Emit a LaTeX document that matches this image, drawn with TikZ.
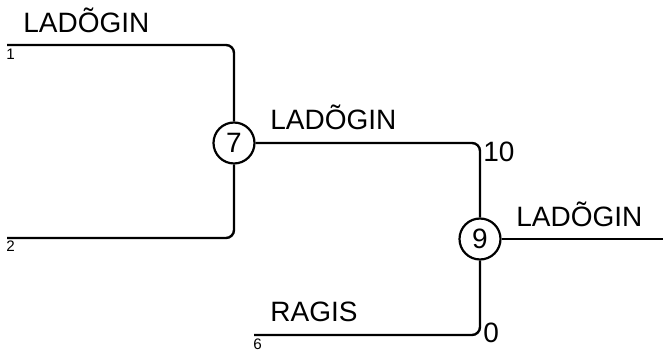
\documentclass[tikz,border=0pt]{standalone}
\usepackage{fontspec}
\setmainfont{Liberation Sans}
\tikzset{
  junction/.style={circle,draw,line width=1.1pt,minimum size=20.5pt,inner sep=0pt,font=\fontsize{14}{15}\selectfont},
  wire/.style={line width=1.2pt,rounded corners=4pt},
  tag/.style={anchor=base west,inner sep=0pt,font=\fontsize{14}{15}\selectfont},
  pin/.style={anchor=base west,inner sep=0pt,font=\fontsize{7.6}{8}\selectfont}
}
\begin{document}
\begin{tikzpicture}[x=0.5pt,y=-0.5pt]
  \useasboundingbox (0,0) rectangle (663,351);
  % junctions
  \node[junction] (j7) at (234,143) {7};
  \node[junction] (j9) at (480,239) {9};
  % free ends
  \coordinate (in1) at (7,45);
  \coordinate (in2) at (7,238);
  \coordinate (in6) at (254,335);
  \coordinate (out) at (663,239);
  % wires
  \draw[wire] (in1) -- (in1 -| j7) -- (j7);
  \draw[wire] (in2) -- (in2 -| j7) -- (j7);
  \draw[wire] (j7) -- (j7 -| j9) -- (j9);
  \draw[wire] (in6) -- (in6 -| j9) -- (j9);
  \draw[wire] (j9) -- (out);
  % labels
  \node[tag] (n1) at (23,33) {LADÕGIN};
  \node[tag] (n7) at (270,130) {LADÕGIN};
  \node[tag] (n9) at (516,227) {LADÕGIN};
  \node[tag] (n6) at (270,322) {RAGIS};
  \node[tag] (p10) at (483,162) {10};
  \node[tag] (p0) at (483,343) {0};
  \node[pin] (p1) at (6,60) {1};
  \node[pin] (p2) at (6,252) {2};
  \node[pin] (p6) at (253,350) {6};
\end{tikzpicture}
\end{document}
